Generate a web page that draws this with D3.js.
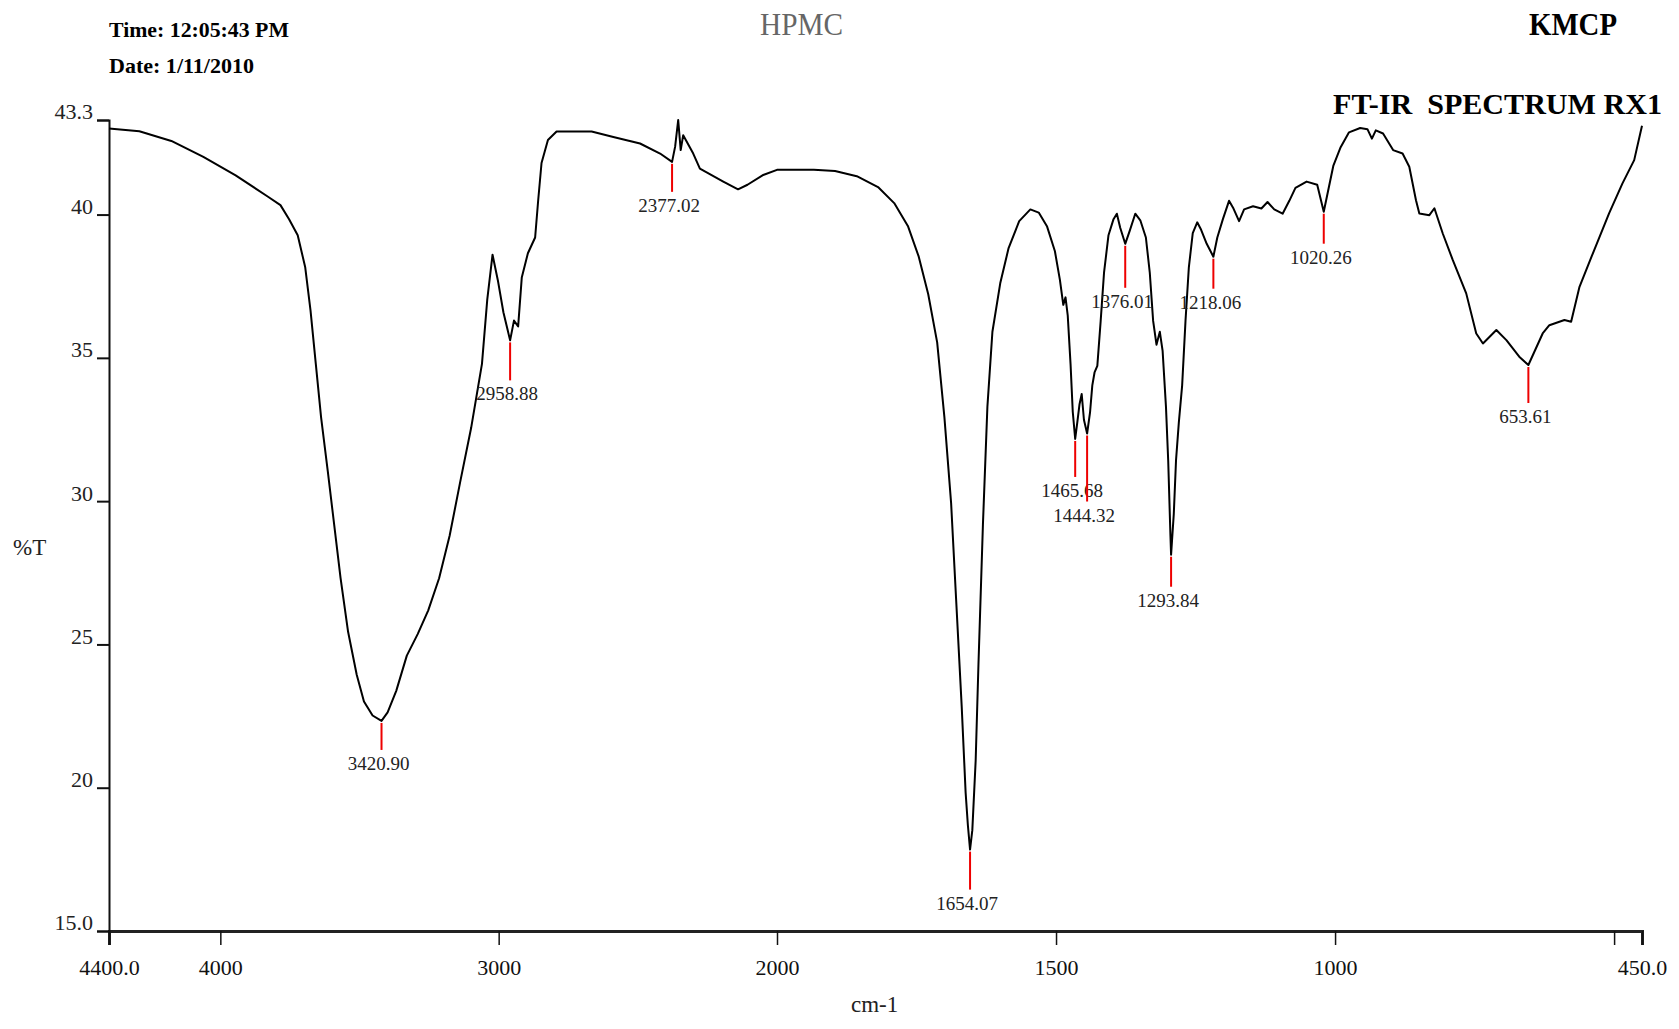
<!DOCTYPE html>
<html>
<head>
<meta charset="utf-8">
<script src="https://cdn.jsdelivr.net/npm/d3@7/dist/d3.min.js"></script>
<style>
body{margin:0;background:#fff;}
svg text{font-family:"Liberation Serif","Times New Roman",serif;}
</style>
</head>
<body>
<svg id="chart"></svg>
<script>
// spectrum (cm-1 high -> low, %T)
var wavenumber = [4400,4291,4176,4061,3945,3830,3784,3753,3722,3695,3676,3657,3638,3614,3591,3568,3541,3510,3484,3453,3420.9,3399,3368,3330,3291,3253,3214,3176,3138,3099,3060,3041,3022,3003,2983,2958.88,2945,2930,2917,2895,2869,2858,2846,2823,2792,2666,2588,2492,2420,2377.02,2366,2355,2346,2337,2301,2277,2193,2140,2106,2052,2000,
  1934,1896,1857,1819,1790,1765,1746,1729,1713,1700,1688,1679,1669,1662,1658,1654.07,1650,1644,1639,1631,1623,1614,1600,1585,1566,1546,1531,1516,1502,1493,1487,1483,1479,1474,1470,1465.68,1462,1458,1454,1450,1444.32,1439,1435,1431,1426,1420,1414,1406,1397,1391,1385,1376.01,1368,1358,1349,1339,1332,1326,1320,1314,1309,1303,1299,1295,1293.84,1289,1285,1280,1274,1268,1262,1255,1247,1240,1230,1218.06,1211,1201,1190,1182,1172,1163,1147,1132,1121,1109,1094,1082,1071,1051,1032,1020.26,1013,1003,990,975,955,942,934,927,914,896,879,867,855,849,831,822,807,789,765,747,735,711,693,670,653.61,628,616,589,577,562,538,509,485,464,450];
var transmittance = [43.0,42.91,42.57,42.01,41.37,40.63,40.33,39.84,39.28,38.16,36.66,34.79,32.92,31.05,29.18,27.31,25.44,23.94,23.01,22.52,22.33,22.63,23.38,24.61,25.36,26.19,27.31,28.8,30.68,32.55,34.79,37.03,38.6,37.71,36.59,35.61,36.3,36.1,37.8,38.65,39.2,40.5,41.8,42.6,42.9,42.9,42.71,42.48,42.13,41.84,42.37,43.3,42.25,42.77,42.13,41.6,41.15,40.88,41.04,41.37,41.56,
  41.56,41.52,41.34,40.96,40.4,39.58,38.53,37.22,35.54,32.92,29.93,26.56,22.82,19.83,18.7,17.84,18.52,20.95,24.31,29.18,33.29,35.91,37.6,38.83,39.77,40.18,40.07,39.58,38.72,37.71,36.85,37.11,36.47,34.79,33.11,32.17,32.73,33.37,33.74,32.84,32.36,33.11,34.04,34.49,34.72,36.29,37.97,39.28,39.84,40.03,39.54,38.98,39.43,40.03,39.8,39.2,37.97,36.29,35.46,35.91,35.24,33.29,31.42,28.8,28.13,29.55,31.42,32.73,34.04,36.29,38.16,39.35,39.73,39.47,38.98,38.53,39.2,39.84,40.48,40.21,39.77,40.18,40.29,40.21,40.44,40.18,40.03,40.48,40.93,41.15,41.04,40.1,40.78,41.71,42.35,42.87,43.02,42.98,42.65,42.94,42.83,42.25,42.13,41.67,40.5,40.04,39.98,40.22,39.34,38.41,37.25,35.85,35.5,35.97,35.62,35.04,34.75,35.85,36.14,36.32,36.26,37.48,38.65,40.04,41.09,41.9,43.1];

// picked peaks
var peakWavenumber = [3420.90,2958.88,2377.02,1654.07,1465.68,1444.32,1376.01,1293.84,1218.06,1020.26,653.61];
var peakTransmittance = [22.33,35.61,41.84,17.84,32.17,32.36,38.98,28.13,38.53,40.10,34.75];
var peakLabels = ["3420.90","2958.88","2377.02","1654.07","1465.68","1444.32","1376.01","1293.84","1218.06","1020.26","653.61"];

var xTickValues = [4400,4000,3000,2000,1500,1000,500,450];
var xTickLabels = ["4400.0","4000","3000","2000","1500","1000","","450.0"];
var yTickValues = [15,20,25,30,35,40,43.3];
var yTickLabels = ["15.0","20","25","30","35","40","43.3"];

// length of the red marker under each peak (px)
var markerLength = {"3420.90":29,"2958.88":40,"2377.02":30,"1654.07":40,"1465.68":38,
                    "1444.32":68,"1376.01":44,"1293.84":32,"1218.06":32,"1020.26":32,"653.61":38};

var initGraph = function()
{
    var screen = {width:1679,height:1029};
    var svg = d3.select("#chart")
        .attr("width",screen.width)
        .attr("height",screen.height);

    // instrument scale doubles below 2000 cm-1
    var xScale = d3.scaleLinear()
        .domain([4400,2000,450])
        .range([109,777,1642]);
    var yScale = d3.scaleLinear()
        .domain([15,43.3])
        .range([931,120]);

    // axes
    var xAxis = d3.axisBottom(xScale)
        .tickValues(xTickValues)
        .tickSize(14)
        .tickPadding(14)
        .tickFormat(function(d,i){return xTickLabels[i];});
    var gx = svg.append("g")
        .attr("transform","translate(0,"+yScale(15)+")")
        .call(xAxis);
    gx.select(".domain").attr("stroke","#222").attr("stroke-width",3);
    gx.selectAll(".tick line").attr("stroke","#111").attr("stroke-width",1.5);
    gx.selectAll(".tick text").attr("font-size",22).attr("fill","#111")
        .attr("font-family","Liberation Serif");

    var yAxis = d3.axisLeft(yScale)
        .tickValues(yTickValues)
        .tickSize(12)
        .tickPadding(4)
        .tickFormat(function(d,i){return yTickLabels[i];});
    var gy = svg.append("g")
        .attr("transform","translate("+xScale(4400)+",0)")
        .call(yAxis);
    gy.select(".domain").attr("stroke","#111").attr("stroke-width",2);
    gy.selectAll(".tick line").attr("stroke","#111").attr("stroke-width",2);
    gy.selectAll(".tick text").attr("font-size",22).attr("fill","#222")
        .attr("dy","-0.05em")
        .attr("font-family","Liberation Serif");

    // spectrum
    var points = wavenumber.map(function(w,i){return [w,transmittance[i]];});
    var lineGenerator = d3.line()
        .x(function(p){return xScale(p[0]);})
        .y(function(p){return yScale(p[1]);});
    svg.append("path")
        .datum(points)
        .attr("fill","none")
        .attr("stroke","#000")
        .attr("stroke-width",2)
        .attr("stroke-linejoin","round")
        .attr("d",lineGenerator);

    // peak markers
    var peaks = svg.append("g").selectAll("g")
        .data(peakWavenumber)
        .enter()
        .append("g");
    peaks.append("line")
        .attr("x1",function(w){return xScale(w);})
        .attr("x2",function(w){return xScale(w);})
        .attr("y1",function(w,i){return yScale(peakTransmittance[i])+2;})
        .attr("y2",function(w,i){return yScale(peakTransmittance[i])+markerLength[peakLabels[i]];})
        .attr("stroke","#e00")
        .attr("stroke-width",2);
    peaks.append("text")
        .text(function(w,i){return peakLabels[i];})
        .attr("x",function(w){return xScale(w)-3;})
        .attr("y",function(w,i){return yScale(peakTransmittance[i])+markerLength[peakLabels[i]]+20;})
        .attr("text-anchor","middle")
        .attr("font-size",19)
        .attr("fill","#222");

    // header and axis titles
    var labels = svg.append("g");
    labels.append("text").text("Time: 12:05:43 PM")
        .attr("x",109).attr("y",37).attr("font-size",22).attr("font-weight","bold")
        .attr("textLength",180).attr("lengthAdjust","spacingAndGlyphs");
    labels.append("text").text("Date: 1/11/2010")
        .attr("x",109).attr("y",73).attr("font-size",22).attr("font-weight","bold")
        .attr("textLength",145).attr("lengthAdjust","spacingAndGlyphs");
    labels.append("text").text("HPMC")
        .attr("x",760).attr("y",35).attr("font-size",32).attr("fill","#666")
        .attr("textLength",83).attr("lengthAdjust","spacingAndGlyphs");
    labels.append("text").text("KMCP")
        .attr("x",1529).attr("y",35).attr("font-size",32).attr("font-weight","bold")
        .attr("textLength",88).attr("lengthAdjust","spacingAndGlyphs");
    labels.append("text").text("FT-IR  SPECTRUM RX1")
        .attr("x",1333).attr("y",114).attr("font-size",30).attr("font-weight","bold")
        .attr("xml:space","preserve")
        .attr("textLength",329).attr("lengthAdjust","spacingAndGlyphs");
    labels.append("text").text("%T")
        .attr("x",13).attr("y",555).attr("font-size",23).attr("fill","#222");
    labels.append("text").text("cm-1")
        .attr("x",851).attr("y",1012).attr("font-size",23).attr("fill","#222");
}

initGraph();
</script>
</body>
</html>
